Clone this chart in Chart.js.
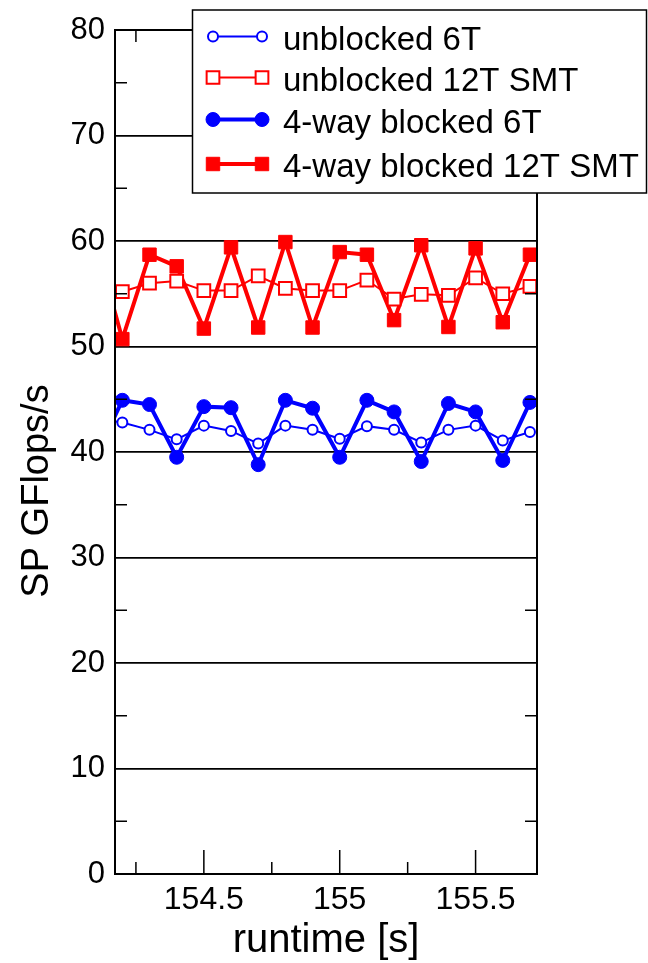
<!DOCTYPE html>
<html>
<head>
<meta charset="utf-8">
<script src="https://cdn.jsdelivr.net/npm/chart.js@4"></script>
<style>
  body { margin: 0; background: #fff; }
  canvas { display: block; }
</style>
</head>
<body>
<canvas id="myChart" width="648" height="963"></canvas>
<script>
// runtime [s] of each sample, one every 0.1 s (first one sits left of the visible range)
const runtime = [154.1, 154.2, 154.3, 154.4, 154.5, 154.6, 154.7, 154.8, 154.9,
  155.0, 155.1, 155.2, 155.3, 155.4, 155.5, 155.6, 155.7];

// SP GFlops/s per series
const unblocked6T = [43.2, 42.8, 42.1, 41.2, 42.5, 42.0, 40.8, 42.5, 42.1,
  41.25, 42.45, 42.1, 40.9, 42.1, 42.5, 41.1, 41.9];
const unblocked12T = [55.5, 55.2, 56.0, 56.2, 55.3, 55.3, 56.7, 55.5, 55.3,
  55.3, 56.3, 54.5, 54.95, 54.85, 56.5, 55.0, 55.7];
const blocked6T = [39.5, 44.9, 44.5, 39.5, 44.3, 44.2, 38.8, 44.9, 44.15,
  39.5, 44.9, 43.8, 39.1, 44.6, 43.8, 39.2, 44.7];
const blocked12T = [60.0, 50.7, 58.7, 57.6, 51.7, 59.4, 51.8, 59.9, 51.8,
  58.95, 58.7, 52.5, 59.6, 51.85, 59.3, 52.3, 58.7];

const seriesNames = ["unblocked 6T", "unblocked 12T SMT", "4-way blocked 6T", "4-way blocked 12T SMT"];

const xTicks = [154.5, 155, 155.5];
const xMinorTicks = [154.25, 154.75, 155.25];
const yTicks = [0, 10, 20, 30, 40, 50, 60, 70, 80];
const yMinorTicks = [5, 15, 25, 35, 45, 55, 65, 75];

const FONT = "'Liberation Sans', Arial, Helvetica, sans-serif";
const BLUE = "#0000ff";
const RED = "#ff0000";

const toPoints = (values) => values.map((v, i) => ({ x: runtime[i], y: v }));

// marker / line look of each series (also used by the legend)
const styles = [
  { color: BLUE, pointStyle: "circle", radius: 5, filled: false, lineWidth: 2 },
  { color: RED, pointStyle: "rect", radius: 9, filled: false, lineWidth: 2 },
  { color: BLUE, pointStyle: "circle", radius: 7, filled: true, lineWidth: 4 },
  { color: RED, pointStyle: "rect", radius: 9.5, filled: true, lineWidth: 4 },
];

const makeDataset = (label, values, st, order) => ({
  label: label,
  data: toPoints(values),
  borderColor: st.color,
  borderWidth: st.lineWidth,
  tension: 0,
  pointStyle: st.pointStyle,
  pointRadius: st.radius,
  pointBackgroundColor: st.filled ? st.color : "#ffffff",
  pointBorderColor: st.color,
  pointBorderWidth: st.filled ? 1 : 2,
  clip: 1,
  order: order,
});

// frame, inward ticks, axis titles and the boxed legend
const decorations = {
  id: "decorations",
  afterDraw(chart) {
    const ctx = chart.ctx;
    const area = chart.chartArea;
    const xs = chart.scales.x;
    const ys = chart.scales.y;
    ctx.save();
    ctx.strokeStyle = "#000";
    ctx.lineWidth = 2;
    ctx.strokeRect(area.left, area.top, area.right - area.left, area.bottom - area.top);

    ctx.lineWidth = 1.5;
    ctx.beginPath();
    yMinorTicks.forEach((v) => {
      const y = ys.getPixelForValue(v);
      ctx.moveTo(area.left, y);
      ctx.lineTo(area.left + 12, y);
      ctx.moveTo(area.right, y);
      ctx.lineTo(area.right - 12, y);
    });
    xTicks.forEach((v) => {
      const x = xs.getPixelForValue(v);
      ctx.moveTo(x, area.bottom);
      ctx.lineTo(x, area.bottom - 24);
      ctx.moveTo(x, area.top);
      ctx.lineTo(x, area.top + 24);
    });
    xMinorTicks.forEach((v) => {
      const x = xs.getPixelForValue(v);
      ctx.moveTo(x, area.bottom);
      ctx.lineTo(x, area.bottom - 12);
      ctx.moveTo(x, area.top);
      ctx.lineTo(x, area.top + 12);
    });
    ctx.stroke();

    // axis titles
    ctx.fillStyle = "#000";
    ctx.font = "40px " + FONT;
    ctx.textAlign = "center";
    ctx.textBaseline = "alphabetic";
    ctx.fillText("runtime [s]", (area.left + area.right) / 2, 952);

    ctx.save();
    ctx.translate(48, 491);
    ctx.rotate(-Math.PI / 2);
    ctx.font = "38px " + FONT;
    ctx.fillText("SP GFlops/s", 0, 0);
    ctx.restore();

    // legend box
    ctx.fillStyle = "#fff";
    ctx.fillRect(192.5, 10, 454, 183);
    ctx.strokeStyle = "#000";
    ctx.lineWidth = 1.5;
    ctx.strokeRect(192.5, 10, 454, 183);

    const rowY = [36.5, 77.5, 119.5, 164];
    seriesNames.forEach((name, i) => {
      const st = styles[i];
      const y = rowY[i];
      ctx.strokeStyle = st.color;
      ctx.lineWidth = st.lineWidth;
      ctx.beginPath();
      ctx.moveTo(213, y);
      ctx.lineTo(262, y);
      ctx.stroke();
      [213, 262].forEach((x) => {
        ctx.fillStyle = st.filled ? st.color : "#fff";
        ctx.strokeStyle = st.color;
        ctx.lineWidth = st.filled ? 1 : 2;
        Chart.helpers.drawPoint(ctx, {
          pointStyle: st.pointStyle,
          radius: st.radius,
          rotation: 0,
          borderWidth: st.filled ? 1 : 2,
        }, x, y);
      });
      ctx.fillStyle = "#000";
      ctx.font = "33px " + FONT;
      ctx.textAlign = "left";
      ctx.textBaseline = "alphabetic";
      ctx.fillText(name, 283, y + 13);
    });
    ctx.restore();
  },
};

const ctx = document.getElementById("myChart").getContext("2d");

const chart = new Chart(ctx, {
  type: "line",
  data: {
    datasets: [
      makeDataset(seriesNames[0], unblocked6T, styles[0], 1),
      makeDataset(seriesNames[1], unblocked12T, styles[1], 2),
      makeDataset(seriesNames[2], blocked6T, styles[2], 3),
      makeDataset(seriesNames[3], blocked12T, styles[3], 4),
    ],
  },
  options: {
    responsive: false,
    animation: false,
    devicePixelRatio: 1,
    layout: { padding: { top: 30, right: 111, left: 0, bottom: 0 } },
    plugins: {
      legend: { display: false },
      tooltip: { enabled: false },
    },
    scales: {
      x: {
        type: "linear",
        min: 154.173,
        max: 155.726,
        afterBuildTicks: (scale) => {
          scale.ticks = xTicks.map((v) => ({ value: v }));
        },
        afterFit: (scale) => {
          scale.height = 89;
        },
        grid: { display: false, drawTicks: false },
        border: { display: false },
        ticks: {
          color: "#000",
          font: { family: FONT, size: 32 },
          padding: 7,
          maxRotation: 0,
          callback: (v) => String(v),
        },
      },
      y: {
        min: 0,
        max: 80,
        afterBuildTicks: (scale) => {
          scale.ticks = yTicks.map((v) => ({ value: v }));
        },
        afterFit: (scale) => {
          scale.width = 115;
        },
        grid: { color: "#000", lineWidth: 1.8, drawTicks: false },
        border: { display: false },
        ticks: {
          color: "#000",
          font: { family: FONT, size: 31 },
          padding: 10,
          callback: (v) => String(v),
        },
      },
    },
  },
  plugins: [decorations],
});
</script>
</body>
</html>
